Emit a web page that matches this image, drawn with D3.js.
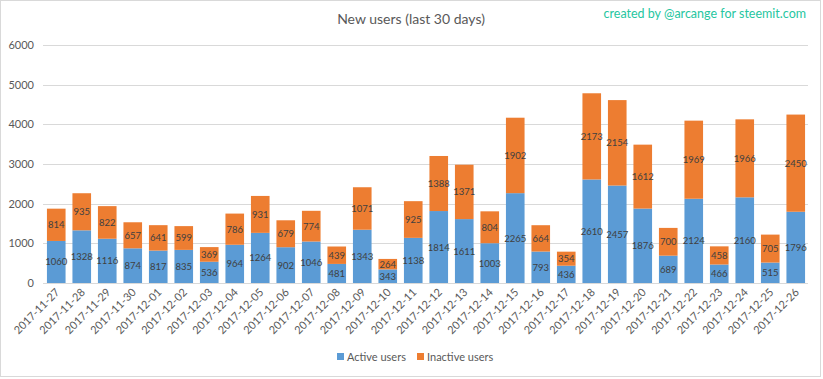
<!DOCTYPE html>
<html><head><meta charset="utf-8">
<script src="https://cdn.jsdelivr.net/npm/d3@7"></script>
<style>body{margin:0;background:#fff}svg{display:block}text{font-family:Lato,"Open Sans",sans-serif}</style>
</head><body>
<svg id="c" width="823" height="379"></svg>
<script>
const dates = ["2017-11-27","2017-11-28","2017-11-29","2017-11-30","2017-12-01","2017-12-02","2017-12-03","2017-12-04","2017-12-05","2017-12-06","2017-12-07","2017-12-08","2017-12-09","2017-12-10","2017-12-11","2017-12-12","2017-12-13","2017-12-14","2017-12-15","2017-12-16","2017-12-17","2017-12-18","2017-12-19","2017-12-20","2017-12-21","2017-12-22","2017-12-23","2017-12-24","2017-12-25","2017-12-26"];
const activeUsers = [1060,1328,1116,874,817,835,536,964,1264,902,1046,481,1343,343,1138,1814,1611,1003,2265,793,436,2610,2457,1876,689,2124,466,2160,515,1796];
const inactiveUsers = [814,935,822,657,641,599,369,786,931,679,774,439,1071,264,925,1388,1371,804,1902,664,354,2173,2154,1612,700,1969,458,1966,705,2450];
const yTicks = [0,1000,2000,3000,4000,5000,6000];
const seriesNames = ["Active users","Inactive users"];
const colors = ["#5b9bd5","#ed7d31"];

const svg = d3.select("#c");
const W=823,H=379;
svg.append("rect").attr("x",0.5).attr("y",0.5).attr("width",W-3).attr("height",H-3).attr("fill","#fff").attr("stroke","#d9d9d9");

const x = d3.scaleBand().domain(dates).range([43.5,808.5]).paddingInner(0.27).paddingOuter(0.135);
const y = d3.scaleLinear().domain([0,6000]).range([283,45]);

// gridlines
svg.append("g").selectAll("line").data(yTicks.slice(1)).join("line")
  .attr("x1",43).attr("x2",808).attr("y1",d=>Math.round(y(d))+0.5).attr("y2",d=>Math.round(y(d))+0.5)
  .attr("stroke","#d9d9d9").attr("stroke-width",1);

// y labels
svg.append("g").selectAll("text").data(yTicks).join("text")
  .attr("x",34).attr("y",d=>y(d)+4).attr("text-anchor","end")
  .attr("font-size",11).attr("fill","#595959").text(d=>d);

const data = dates.map((d,i)=>({date:d,a:activeUsers[i],b:inactiveUsers[i]}));
const g = svg.append("g");
g.selectAll("rect.a").data(data).join("rect").attr("class","a")
  .attr("x",d=>x(d.date)).attr("width",x.bandwidth())
  .attr("y",d=>y(d.a)).attr("height",d=>y(0)-y(d.a)).attr("fill",colors[0]);
g.selectAll("rect.b").data(data).join("rect").attr("class","b")
  .attr("x",d=>x(d.date)).attr("width",x.bandwidth())
  .attr("y",d=>y(d.a+d.b)).attr("height",d=>y(d.a)-y(d.a+d.b)).attr("fill",colors[1]);

// axis line
svg.append("line").attr("x1",43).attr("x2",808).attr("y1",283.5).attr("y2",283.5).attr("stroke","#d9d9d9");

// value labels
g.selectAll("text.la").data(data).join("text").attr("class","la")
  .attr("x",d=>x(d.date)+x.bandwidth()/2).attr("y",d=>y(d.a/2)+3.5)
  .attr("text-anchor","middle").attr("font-size",9.5).attr("fill","#404040").text(d=>d.a);
g.selectAll("text.lb").data(data).join("text").attr("class","lb")
  .attr("x",d=>x(d.date)+x.bandwidth()/2).attr("y",d=>y(d.a+d.b/2)+3.5)
  .attr("text-anchor","middle").attr("font-size",9.5).attr("fill","#404040").text(d=>d.b);

// x labels
svg.append("g").selectAll("text").data(dates).join("text")
  .attr("transform",d=>`translate(${x(d)+x.bandwidth()/2+4},${293}) rotate(-45)`)
  .attr("text-anchor","end").attr("font-size",11).attr("fill","#595959").text(d=>d);

// title
svg.append("text").attr("x",411).attr("y",24).attr("text-anchor","middle")
  .attr("font-size",14).attr("fill","#595959").text("New users (last 30 days)");
svg.append("text").attr("x",806).attr("y",18).attr("text-anchor","end")
  .attr("font-size",12.5).attr("fill","#26c6a0").text("created by @arcange for steemit.com");

// legend
const lg = svg.append("g");
const lx=[337,417];
seriesNames.forEach((n,i)=>{
  lg.append("rect").attr("x",lx[i]).attr("y",353).attr("width",7).attr("height",7).attr("fill",colors[i]);
  lg.append("text").attr("x",lx[i]+10).attr("y",360.5).attr("font-size",11).attr("fill","#595959").text(n);
});
</script>
</body></html>
